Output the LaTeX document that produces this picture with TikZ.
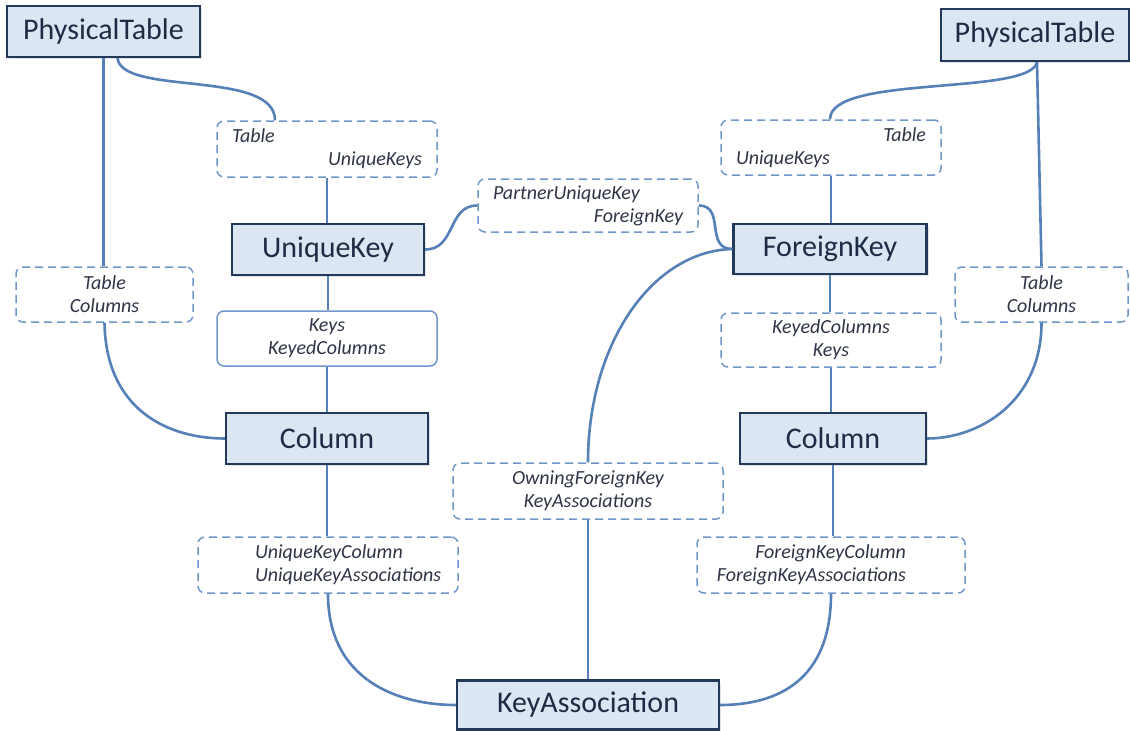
\documentclass[tikz,border=0pt]{standalone}
\usepackage{fontspec}
\setmainfont{Carlito}
\usetikzlibrary{shadows}
\definecolor{boxfill}{HTML}{DCE6F2}
\definecolor{boxdraw}{HTML}{22395A}
\definecolor{boxtext}{HTML}{1E2B45}
\definecolor{linkcol}{HTML}{5580B8}
\definecolor{roledraw}{HTML}{7196C8}
\definecolor{roletext}{HTML}{2F3547}
\begin{document}
\begin{tikzpicture}[x=1pt,y=-1pt,
 entity/.style={draw=boxdraw, line width=2.2pt, fill=boxfill, text=boxtext,
   font=\fontsize{30}{32}\selectfont, inner sep=0pt,
   drop shadow={opacity=0.22,shadow xshift=2pt,shadow yshift=-2pt}},
 role/.style={draw=roledraw, line width=1.5pt, dash pattern=on 8pt off 5pt,
   rounded corners=7pt, fill=white, text=roletext,
   font=\fontsize{20}{23}\selectfont\itshape, inner xsep=15pt, inner ysep=0pt},
 rolesolid/.style={role, solid},
 link/.style={draw=linkcol, line width=2.6pt},
]
\useasboundingbox[fill=white] (0,0) rectangle (1130,731);

% entities
\node[entity, minimum width=193pt, minimum height=51pt] (ptL) at (103.5,31.5) {PhysicalTable};
\node[entity, minimum width=188pt, minimum height=52pt] (ptR) at (1035,35) {PhysicalTable};
\node[entity, minimum width=192pt, minimum height=51pt] (uk) at (328,249.5) {UniqueKey};
\node[entity, minimum width=193pt, minimum height=50pt] (fk) at (830,249) {ForeignKey};
\node[entity, minimum width=202pt, minimum height=51pt] (colL) at (327,438.5) {Column};
\node[entity, minimum width=186pt, minimum height=51pt] (colR) at (833,438.5) {Column};
\node[entity, minimum width=262pt, minimum height=49pt] (ka) at (588,705) {KeyAssociation};

% role boxes
\node[role, text width=190pt, align=left, minimum height=56pt] (tukL) at (327,149) {Table\\\hspace*{\fill}UniqueKeys};
\node[role, text width=190pt, align=left, minimum height=55pt] (tukR) at (831,147.5) {\hspace*{\fill}Table\\UniqueKeys};
\node[role, text width=147pt, align=center, minimum height=55pt] (tcL) at (104.5,294.5) {Table\\Columns};
\node[role, text width=143pt, align=center, minimum height=55pt] (tcR) at (1041.5,294.5) {Table\\Columns};
\node[rolesolid, text width=190pt, align=center, minimum height=55pt] (kkc) at (327,338.5) {Keys\\KeyedColumns};
\node[role, text width=190pt, align=center, minimum height=54pt] (kck) at (831,340) {KeyedColumns\\Keys};
\node[role, text width=190pt, align=left, minimum height=53pt] (puk) at (588,205.5) {PartnerUniqueKey\\\hspace*{\fill}ForeignKey};
\node[role, text width=240pt, align=center, minimum height=56pt] (ofk) at (588,491) {OwningForeignKey\\KeyAssociations};
\node[role, text width=230pt, align=left, minimum height=56pt] (ukc) at (328,565) {\hspace*{42pt}UniqueKeyColumn\\\hspace*{42pt}UniqueKeyAssociations};
\node[role, text width=238pt, align=right, minimum height=56pt] (fkc) at (831,565) {ForeignKeyColumn\hspace*{44pt}\null\\ForeignKeyAssociations\hspace*{44pt}\null};

% connectors, left side
\draw[link] (ptL.south) -- (ptL.south |- tcL.north);
\draw[link] ([xshift=14pt]ptL.south) .. controls +(4,38) and +(0,-51) .. ([xshift=-52pt]tukL.north);
\draw[link] (tukL.south) -- (tukL.south |- uk.north);
\draw[link] (uk.south) -- (uk.south |- kkc.north);
\draw[link] (kkc.south) -- (kkc.south |- colL.north);
\draw[link] (tcL.south) .. controls +(1.5,88) and +(-56,0) .. (colL.west);
\draw[link] (colL.south) -- (colL.south |- ukc.north);
\draw[link] (ukc.south) .. controls +(0,87) and +(-57,0) .. (ka.west);

% middle
\draw[link] (uk.east) .. controls +(31,0) and +(-30,0) .. (puk.west);
\draw[link] (puk.east) .. controls +(27,0) and +(-28,0) .. (fk.west);
\draw[link] (fk.west) .. controls +(-80,2) and +(0,-119) .. (ofk.north);
\draw[link] (ofk.south) -- (ofk.south |- ka.north);

% right side
\draw[link] ([xshift=2pt]ptR.south) .. controls +(-7,34) and +(0,-45) .. ([xshift=-1pt]tukR.north);
\draw[link] ([xshift=2pt]ptR.south) -- (tcR.north);
\draw[link] (tukR.south) -- (tukR.south |- fk.north);
\draw[link] (fk.south) -- (fk.south |- kck.north);
\draw[link] (kck.south) -- (kck.south |- colR.north);
\draw[link] (tcR.south) .. controls +(0,78) and +(53,0) .. (colR.east);
\draw[link] (colR.south) -- (colR.south |- fkc.north);
\draw[link] (fkc.south) .. controls +(0,87) and +(57,0) .. (ka.east);
\end{tikzpicture}
\end{document}
